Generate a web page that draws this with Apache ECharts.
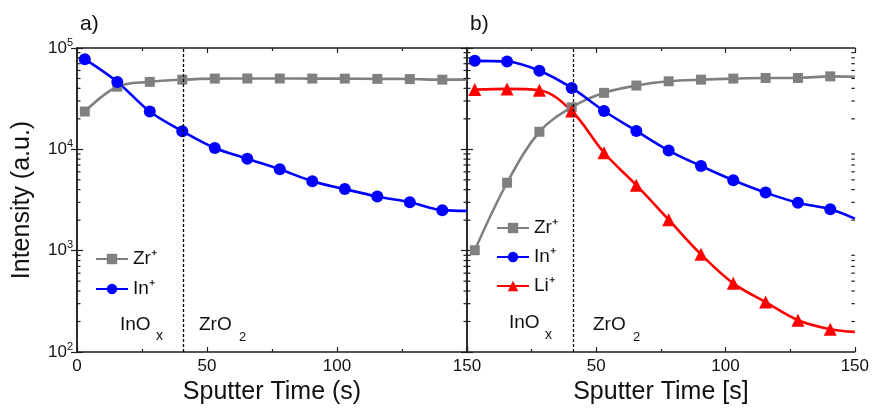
<!DOCTYPE html>
<html>
<head>
<meta charset="utf-8">
<script src="https://cdn.jsdelivr.net/npm/echarts@6/dist/echarts.min.js"></script>
<style>
  html, body { margin: 0; padding: 0; background: #ffffff; }
  #chart { width: 872px; height: 410px; }
</style>
</head>
<body>
<div id="chart"></div>
<script>
// Sputter times (s) of the plotted markers, shared by both depth profiles
const sputterTime = [3, 15.5, 28, 40.5, 53, 65.5, 78, 90.5, 103, 115.5, 128, 140.5];
const endTime = 150;

// a) InOx / ZrO2 stack: secondary ion intensities (a.u.)
const zrA = [23600, 41500, 46300, 48700, 49900, 50000, 50000, 49900, 49900, 49600, 49400, 48700];
const zrAEnd = 48700;
const inA = [77600, 46300, 23600, 15100, 10300, 8080, 6350, 4850, 4050, 3420, 3010, 2510];
const inAEnd = 2470;

// b) Li-containing stack
const zrB = [1010, 4680, 14900, 26000, 36100, 42600, 46900, 48700, 49900, 50600, 50600, 52500];
const zrBEnd = 52000;
const inB = [74700, 73500, 59700, 40400, 23900, 15200, 9730, 6850, 4960, 3740, 2970, 2560];
const inBEnd = 2070;
const liB = [38900, 39500, 38300, 23900, 9250, 4430, 2020, 920, 476, 311, 206, 168];
const liBEnd = 158;

// Boundary between the InOx and ZrO2 layers (s)
const interfaceTime = 41;

// Axis ranges and log minor tick positions
const xMin = 0, xMax = 150, xStep = 50;
const yMin = 100, yMax = 100000;
const decades = [100, 1000, 10000];
const minorMultipliers = [2, 3, 4, 5, 6, 7, 8, 9];

const FONT = "'Liberation Sans', Arial, Helvetica, sans-serif";
const FRAME = '#1e1e1e';
const GRAY = '#808080', BLUE = '#0000ff', RED = '#ff0000';

// axis indices: 0/1 = panel a (bottom-left / top-right), 2/3 = panel b
const PANEL_A = 0, PANEL_B = 2;

function profile(values, endValue) {
  const pts = sputterTime.map((t, i) => [t, values[i]]);
  pts.push({ value: [endTime, endValue], symbol: 'none' });
  return pts;
}

function lineSeries(name, color, symbol, size, data, axis, extra) {
  return Object.assign({
    name, type: 'line', data,
    xAxisIndex: axis, yAxisIndex: axis,
    smooth: 0.35,
    symbol, symbolSize: size, showAllSymbol: true,
    lineStyle: { color, width: 2.6 },
    itemStyle: { color },
    emphasis: { disabled: true }
  }, extra || {});
}

function interfaceLine() {
  return {
    symbol: 'none', silent: true, label: { show: false },
    lineStyle: { color: '#000', type: [3, 2], width: 1.3 },
    data: [{ xAxis: interfaceTime }]
  };
}

// Log minor ticks on both vertical edges of a panel
function logMinorTicks(axis) {
  const data = [];
  decades.forEach(d => minorMultipliers.forEach(m => data.push([xMin, d * m])));
  return {
    type: 'custom', xAxisIndex: axis, yAxisIndex: axis, silent: true, z: 6,
    data,
    renderItem(params, api) {
      const v = api.value(1);
      const a = api.coord([xMin, v]);
      const b = api.coord([xMax, v]);
      const st = { stroke: FRAME, lineWidth: 1.2 };
      return {
        type: 'group',
        children: [
          { type: 'line', shape: { x1: a[0], y1: a[1], x2: a[0] + 3.5, y2: a[1] }, style: st },
          { type: 'line', shape: { x1: b[0], y1: b[1], x2: b[0] - 3.5, y2: b[1] }, style: st }
        ]
      };
    }
  };
}

const axisLineStyle = { show: true, lineStyle: { color: FRAME, width: 1.5 } };

function xAxis(gridIndex, position, opts) {
  return Object.assign({
    type: 'value', gridIndex, position,
    min: xMin, max: xMax, interval: xStep,
    axisLine: axisLineStyle,
    axisTick: { show: true, inside: true, length: 5, lineStyle: { color: FRAME, width: 1.2 } },
    minorTick: { show: true, splitNumber: 2, length: 3, lineStyle: { color: FRAME, width: 1.2 } },
    splitLine: { show: false },
    axisLabel: { show: false }
  }, opts || {});
}

function yAxis(gridIndex, position, opts) {
  return Object.assign({
    type: 'log', logBase: 10, gridIndex, position,
    min: yMin, max: yMax,
    axisLine: axisLineStyle,
    axisTick: { show: true, inside: true, length: 6, lineStyle: { color: FRAME, width: 1.2 } },
    splitLine: { show: false },
    axisLabel: { show: false }
  }, opts || {});
}

const bottomLabel = {
  show: true, fontSize: 17, color: '#111', fontFamily: FONT, margin: 6
};
const nameStyle = { fontSize: 25, color: '#111', fontFamily: FONT };

const option = {
  animation: false,
  backgroundColor: '#ffffff',
  grid: [
    { left: 77, top: 48, width: 390, height: 307 },
    { left: 467, top: 48, width: 390, height: 307 }
  ],
  xAxis: [
    xAxis(0, 'bottom', {
      axisLabel: bottomLabel,
      name: 'Sputter Time (s)', nameLocation: 'middle', nameGap: 28, nameTextStyle: nameStyle
    }),
    xAxis(0, 'top'),
    xAxis(1, 'bottom', {
      axisLabel: Object.assign({ showMinLabel: false }, bottomLabel),
      name: 'Sputter Time [s]', nameLocation: 'middle', nameGap: 28, nameTextStyle: nameStyle
    }),
    xAxis(1, 'top')
  ],
  yAxis: [
    yAxis(0, 'left', {
      axisLabel: {
        show: true, margin: 4,
        formatter: v => '{b|10}{s|' + Math.round(Math.log10(v)) + '}',
        rich: {
          b: { fontSize: 17, lineHeight: 22, color: '#111', fontFamily: FONT },
          s: { fontSize: 11, lineHeight: 10, verticalAlign: 'top', color: '#111', fontFamily: FONT }
        }
      },
      name: 'Intensity (a.u.)', nameLocation: 'middle', nameGap: 42, nameRotate: 90,
      nameTextStyle: nameStyle
    }),
    yAxis(0, 'right'),
    yAxis(1, 'left'),
    yAxis(1, 'right')
  ],
  legend: [
    {
      left: 95, top: 249, orient: 'vertical', padding: 0,
      itemWidth: 32, itemHeight: 13, itemGap: 10,
      data: ['Zr⁺', 'In⁺'],
      textStyle: { fontSize: 19, lineHeight: 20, color: '#111', fontFamily: FONT },
      selectedMode: false
    },
    {
      left: 496, top: 218, orient: 'vertical', padding: 0,
      itemWidth: 32, itemHeight: 13, itemGap: 9,
      data: ['Zr⁺', 'In⁺', 'Li⁺'],
      textStyle: { fontSize: 19, lineHeight: 20, color: '#111', fontFamily: FONT },
      selectedMode: false
    }
  ],
  series: [
    lineSeries('Zr⁺', GRAY, 'rect', 10, profile(zrA, zrAEnd), PANEL_A, { markLine: interfaceLine() }),
    lineSeries('In⁺', BLUE, 'circle', 12, profile(inA, inAEnd), PANEL_A),
    lineSeries('Zr⁺', GRAY, 'rect', 10, profile(zrB, zrBEnd), PANEL_B, { markLine: interfaceLine() }),
    lineSeries('In⁺', BLUE, 'circle', 12, profile(inB, inBEnd), PANEL_B),
    lineSeries('Li⁺', RED, 'triangle', 13, profile(liB, liBEnd), PANEL_B),
    logMinorTicks(PANEL_A),
    logMinorTicks(PANEL_B)
  ],
  graphic: [
    { type: 'text', x: 80, y: 24, style: { text: 'a)', font: '21px ' + FONT, fill: '#111', verticalAlign: 'middle' } },
    { type: 'text', x: 470, y: 24, style: { text: 'b)', font: '21px ' + FONT, fill: '#111', verticalAlign: 'middle' } },

    { type: 'text', x: 120, y: 325, style: { text: 'InO', font: '19px ' + FONT, fill: '#111', verticalAlign: 'middle' } },
    { type: 'text', x: 156, y: 336, style: { text: 'x', font: '14px ' + FONT, fill: '#111', verticalAlign: 'middle' } },
    { type: 'text', x: 199, y: 325, style: { text: 'ZrO', font: '19px ' + FONT, fill: '#111', verticalAlign: 'middle' } },
    { type: 'text', x: 239, y: 337, style: { text: '2', font: '13px ' + FONT, fill: '#111', verticalAlign: 'middle' } },

    { type: 'text', x: 509, y: 323, style: { text: 'InO', font: '19px ' + FONT, fill: '#111', verticalAlign: 'middle' } },
    { type: 'text', x: 545, y: 335, style: { text: 'x', font: '14px ' + FONT, fill: '#111', verticalAlign: 'middle' } },
    { type: 'text', x: 593, y: 325, style: { text: 'ZrO', font: '19px ' + FONT, fill: '#111', verticalAlign: 'middle' } },
    { type: 'text', x: 633, y: 337, style: { text: '2', font: '13px ' + FONT, fill: '#111', verticalAlign: 'middle' } }
  ]
};

const chart = echarts.init(document.getElementById('chart'), null, { renderer: 'canvas' });
chart.setOption(option);
</script>
</body>
</html>
